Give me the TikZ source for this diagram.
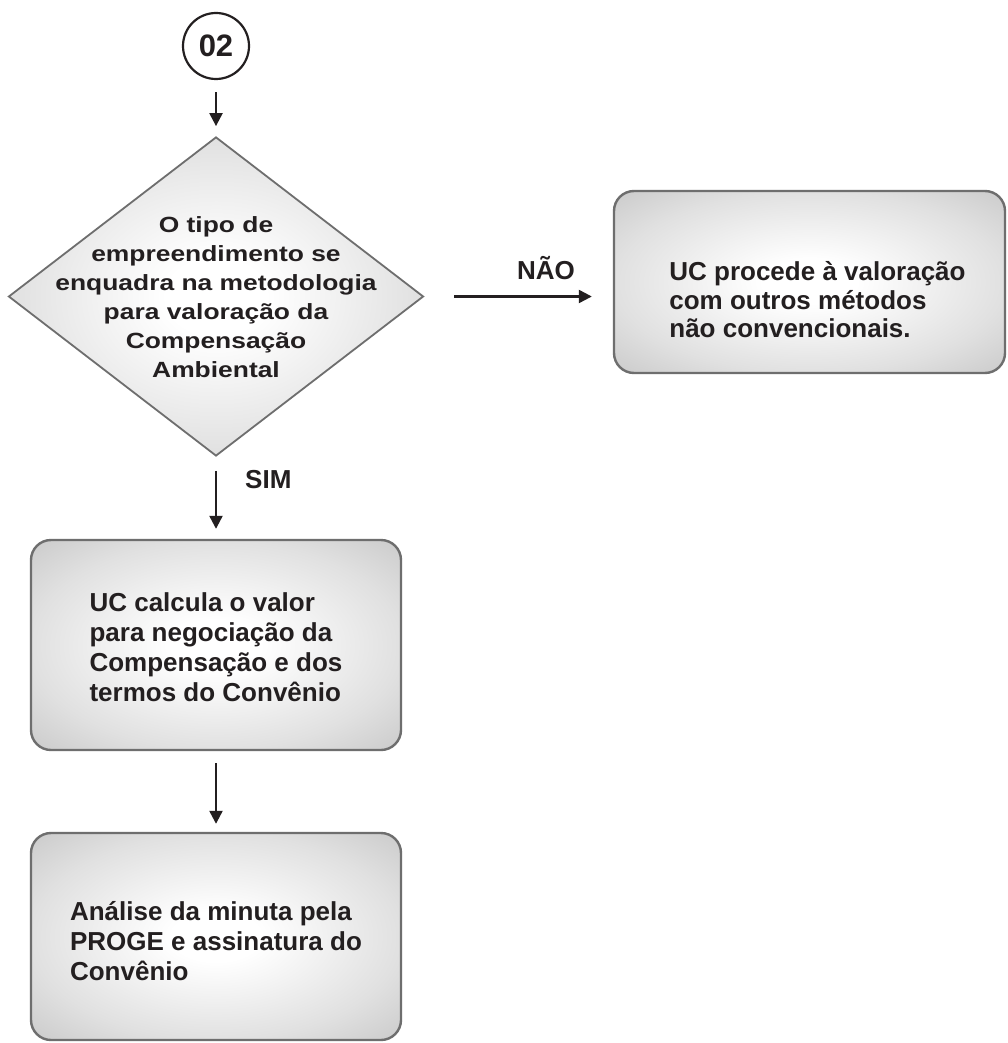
\documentclass[tikz,border=0pt]{standalone}
\usepackage{fontspec}
\setmainfont{Liberation Sans}
\newfontfamily\widefont{Liberation Sans}[FakeStretch=1.2]
\usetikzlibrary{arrows.meta,shapes.geometric}
\pgfdeclareradialshading{softgray}{\pgfpoint{0bp}{0bp}}{color(0bp)=(white); color(6bp)=(white); color(25bp)=(black!12); color(36bp)=(black!21); color(50bp)=(black!21)}
\definecolor{ink}{HTML}{231F20}
\definecolor{edge}{HTML}{6E6E6E}
\tikzset{
 box/.style={draw=edge, line width=2.4pt, rounded corners=20pt, shading=softgray, inner sep=0pt},
 dec/.style={diamond, draw=edge, line width=1.8pt, shading=softgray, inner sep=0pt},
 start/.style={circle, draw=ink, line width=2.2pt, fill=white, minimum size=66pt, inner sep=0pt, font=\bfseries\fontsize{31}{31}\selectfont, text=ink},
 txt/.style={font=\bfseries\fontsize{26}{30}\selectfont, text=ink, inner sep=0pt},
 dtxt/.style={font=\widefont\bfseries\fontsize{22}{29}\selectfont, text=ink, inner sep=0pt, align=center},
 arr/.style={draw=ink, line width=2.3pt, -{Triangle[length=13pt,width=13pt]}},
}
\begin{document}
\begin{tikzpicture}[x=1pt,y=-1pt]
\fill[white] (0,0) rectangle (1008,1043);
\useasboundingbox (0,0) rectangle (1008,1043);
% nodes
\node[start] (c) at (216,46) {02};
\node[dec, minimum width=415pt, minimum height=319pt] (d) at (216,296.5) {};
\node[dtxt] (dt) at (216,297) {O tipo de\\empreendimento se\\enquadra na metodologia\\para valoração da\\Compensação\\Ambiental};
\node[box, minimum width=370pt, minimum height=210pt] (b1) at (216,645) {};
\node[txt, align=left] (t1) at (216,647) {UC calcula o valor\\para negociação da\\Compensação e dos\\termos do Convênio};
\node[box, minimum width=370pt, minimum height=207pt] (b2) at (216,936.5) {};
\node[txt, align=left] (t2) at (216,941) {Análise da minuta pela\\PROGE e assinatura do\\Convênio};
\node[box, minimum width=391pt, minimum height=182pt] (r) at (809.5,282) {};
\node[txt, align=left, font=\bfseries\fontsize{26}{28.5}\selectfont] (rt) at (817.5,300) {UC procede à valoração\\com outros métodos\\não convencionais.};
% labels
\node[txt, anchor=west] (sim) at (245,480) {SIM};
\node[txt] (nao) at (546,268) {NÃO};
% connectors
\draw[arr, shorten <=12pt, shorten >=10pt] (c.south) -- (d.north);
\draw[arr, shorten <=14pt, shorten >=10pt] (d.south) -- (b1.north);
\draw[arr, shorten <=12pt, shorten >=8pt] (b1.south) -- (b2.north);
\draw[arr, shorten <=30pt, shorten >=21pt] (d.east) -- (d.east -| r.west);
\end{tikzpicture}
\end{document}
